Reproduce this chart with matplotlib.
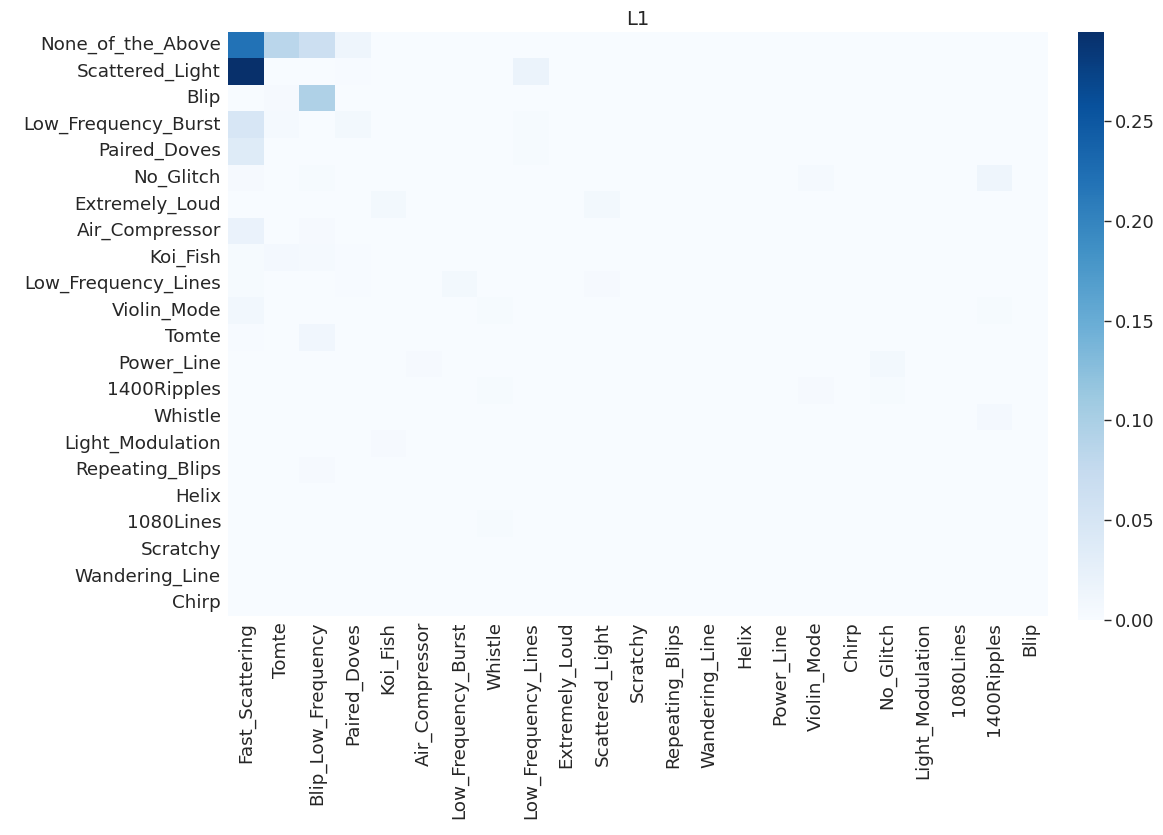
import matplotlib
matplotlib.use("Agg")
import matplotlib.pyplot as plt
import numpy as np
import pandas as pd
import seaborn as sns

true_labels = ["None_of_the_Above", "Scattered_Light", "Blip", "Low_Frequency_Burst",
               "Paired_Doves", "No_Glitch", "Extremely_Loud", "Air_Compressor", "Koi_Fish",
               "Low_Frequency_Lines", "Violin_Mode", "Tomte", "Power_Line", "1400Ripples",
               "Whistle", "Light_Modulation", "Repeating_Blips", "Helix", "1080Lines",
               "Scratchy", "Wandering_Line", "Chirp"]

pred_labels = ["Fast_Scattering", "Tomte", "Blip_Low_Frequency", "Paired_Doves", "Koi_Fish",
               "Air_Compressor", "Low_Frequency_Burst", "Whistle", "Low_Frequency_Lines",
               "Extremely_Loud", "Scattered_Light", "Scratchy", "Repeating_Blips",
               "Wandering_Line", "Helix", "Power_Line", "Violin_Mode", "Chirp", "No_Glitch",
               "Light_Modulation", "1080Lines", "1400Ripples", "Blip"]

# one row per true class, one value per predicted class
values = [
    [0.220, 0.085, 0.065, 0.013, 0, 0, 0, 0, 0, 0, 0, 0, 0, 0, 0, 0, 0, 0, 0, 0, 0, 0, 0],
    [0.295, 0.001, 0.001, 0.002, 0, 0, 0, 0, 0.018, 0, 0, 0, 0, 0, 0, 0, 0, 0, 0, 0, 0, 0, 0],
    [0.001, 0.004, 0.095, 0.001, 0, 0, 0, 0, 0, 0, 0, 0, 0, 0, 0, 0, 0, 0, 0, 0, 0, 0, 0],
    [0.048, 0.005, 0, 0.008, 0, 0, 0, 0, 0.003, 0, 0, 0, 0, 0, 0, 0, 0, 0, 0, 0, 0, 0, 0],
    [0.038, 0, 0, 0, 0, 0, 0, 0, 0.003, 0, 0, 0, 0, 0, 0, 0, 0, 0, 0, 0, 0, 0, 0],
    [0.004, 0, 0.003, 0, 0, 0, 0, 0, 0, 0, 0, 0, 0, 0, 0, 0, 0.005, 0, 0, 0, 0, 0.013, 0],
    [0.001, 0, 0, 0, 0.008, 0, 0, 0, 0, 0, 0.007, 0, 0, 0, 0, 0, 0, 0, 0, 0, 0, 0, 0],
    [0.020, 0, 0.004, 0, 0, 0, 0, 0, 0, 0, 0, 0, 0, 0, 0, 0, 0, 0, 0, 0, 0, 0, 0],
    [0.003, 0.006, 0.005, 0.002, 0, 0, 0, 0, 0, 0, 0, 0, 0, 0, 0, 0, 0, 0, 0, 0, 0, 0, 0],
    [0.003, 0, 0, 0.002, 0, 0, 0.008, 0, 0, 0, 0.004, 0, 0, 0, 0, 0, 0, 0, 0, 0, 0, 0, 0],
    [0.010, 0, 0, 0, 0, 0, 0, 0.003, 0, 0, 0, 0, 0, 0, 0, 0, 0, 0, 0, 0, 0, 0.003, 0],
    [0.002, 0, 0.011, 0, 0, 0, 0, 0, 0, 0, 0, 0, 0, 0, 0, 0, 0, 0, 0, 0, 0, 0, 0],
    [0, 0, 0, 0, 0, 0.004, 0, 0, 0, 0, 0, 0, 0, 0, 0, 0, 0, 0, 0.007, 0, 0, 0, 0],
    [0, 0, 0, 0, 0, 0, 0, 0.003, 0, 0, 0, 0, 0, 0, 0, 0, 0.004, 0, 0.003, 0, 0, 0, 0],
    [0, 0, 0, 0, 0, 0, 0, 0, 0, 0, 0, 0, 0, 0, 0, 0, 0, 0, 0, 0, 0, 0.006, 0],
    [0, 0, 0, 0, 0.004, 0, 0, 0, 0, 0, 0, 0, 0, 0, 0, 0, 0, 0, 0, 0, 0, 0, 0],
    [0, 0, 0.004, 0, 0, 0, 0, 0, 0, 0, 0, 0, 0, 0, 0, 0, 0, 0, 0, 0, 0, 0, 0],
    [0, 0, 0, 0, 0, 0, 0, 0, 0, 0, 0, 0, 0, 0, 0, 0, 0, 0, 0, 0, 0, 0, 0],
    [0, 0, 0, 0, 0, 0, 0, 0.003, 0, 0, 0, 0, 0, 0, 0, 0, 0, 0, 0, 0, 0, 0, 0],
    [0, 0, 0, 0, 0, 0, 0, 0, 0, 0, 0, 0, 0, 0, 0, 0, 0, 0, 0, 0, 0, 0, 0],
    [0, 0, 0, 0, 0, 0, 0, 0, 0, 0, 0, 0, 0, 0, 0, 0, 0, 0, 0, 0, 0, 0, 0],
    [0, 0, 0, 0, 0, 0, 0, 0, 0, 0, 0, 0, 0, 0, 0, 0, 0, 0, 0, 0, 0, 0, 0],
]

sns.set_theme(style="white")
plt.rcParams["font.family"] = ["DejaVu Sans"]
plt.rcParams["text.color"] = "#262626"
plt.rcParams["xtick.color"] = "#262626"
plt.rcParams["ytick.color"] = "#262626"

df = pd.DataFrame(np.array(values), index=true_labels, columns=pred_labels)

fig = plt.figure(figsize=(11.63, 8.35), dpi=100)
ax = fig.add_axes([0.196, 0.262, 0.705, 0.700])
cax = fig.add_axes([0.927, 0.258, 0.022, 0.704])

sns.heatmap(df, cmap="Blues", ax=ax, cbar_ax=cax, xticklabels=True, yticklabels=True)

ax.set_title("L1", fontsize=14, pad=5)
ax.tick_params(axis="x", labelsize=13.2, rotation=90, length=0, pad=4)
ax.tick_params(axis="y", labelsize=13.2, rotation=0, length=0, pad=5)
cax.tick_params(labelsize=13, length=5, width=1, pad=3)
cax.set_yticks([0.0, 0.05, 0.10, 0.15, 0.20, 0.25])
cax.set_yticklabels(["0.00", "0.05", "0.10", "0.15", "0.20", "0.25"])

fig.savefig("out.png", dpi=100)
